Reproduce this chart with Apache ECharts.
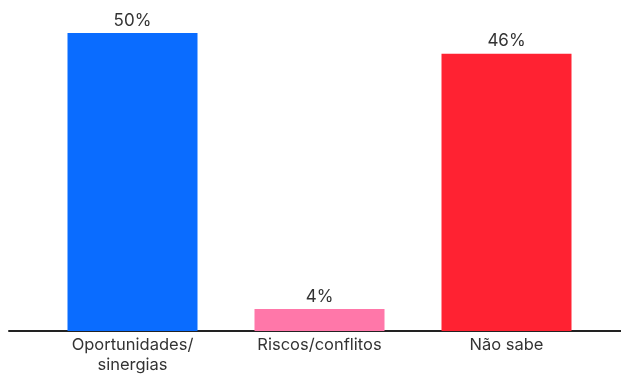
<!DOCTYPE html>
<html><head><meta charset="utf-8">
<script src="https://cdn.jsdelivr.net/npm/echarts@6/dist/echarts.min.js"></script>
<style>html,body{margin:0;padding:0;background:#fff}#c{width:621px;height:377px}</style>
</head><body><div id="c"></div>
<script>
const categories = ['Oportunidades/\nsinergias', 'Riscos/conflitos', 'Não sabe'];
const values = [50, 3.7, 46.5];
const valueLabels = ['50%', '4%', '46%'];
const colors = ['#0a6cff', '#ff77a9', '#ff2232'];

const chart = echarts.init(document.getElementById('c'));
chart.setOption({
  animation: false,
  grid: [
    {left: 39, right: 21, top: 33, bottom: 46},
    {left: 9, right: 0, top: 33, bottom: 46}
  ],
  xAxis: [
    {type: 'category', gridIndex: 0, data: categories,
     axisLine: {show: false}, axisTick: {show: false},
     axisLabel: {fontFamily: 'Inter', fontSize: 16.5, color: '#333', margin: 4, lineHeight: 20}},
    {type: 'value', gridIndex: 1, min: 0, max: 1, show: true,
     axisLine: {show: true, lineStyle: {color: '#222', width: 2}},
     axisTick: {show: false}, axisLabel: {show: false}, splitLine: {show: false}}
  ],
  yAxis: [
    {type: 'value', gridIndex: 0, min: 0, max: 50, show: false},
    {type: 'value', gridIndex: 1, min: 0, max: 1, show: false}
  ],
  series: [{
    type: 'bar', xAxisIndex: 0, yAxisIndex: 0, barWidth: 130,
    data: values.map((v, i) => ({value: v, itemStyle: {color: colors[i]}})),
    label: {show: true, position: 'top', distance: 4, fontFamily: 'Inter', fontSize: 17, color: '#333',
      formatter: p => valueLabels[p.dataIndex]}
  }]
});
</script></body></html>
